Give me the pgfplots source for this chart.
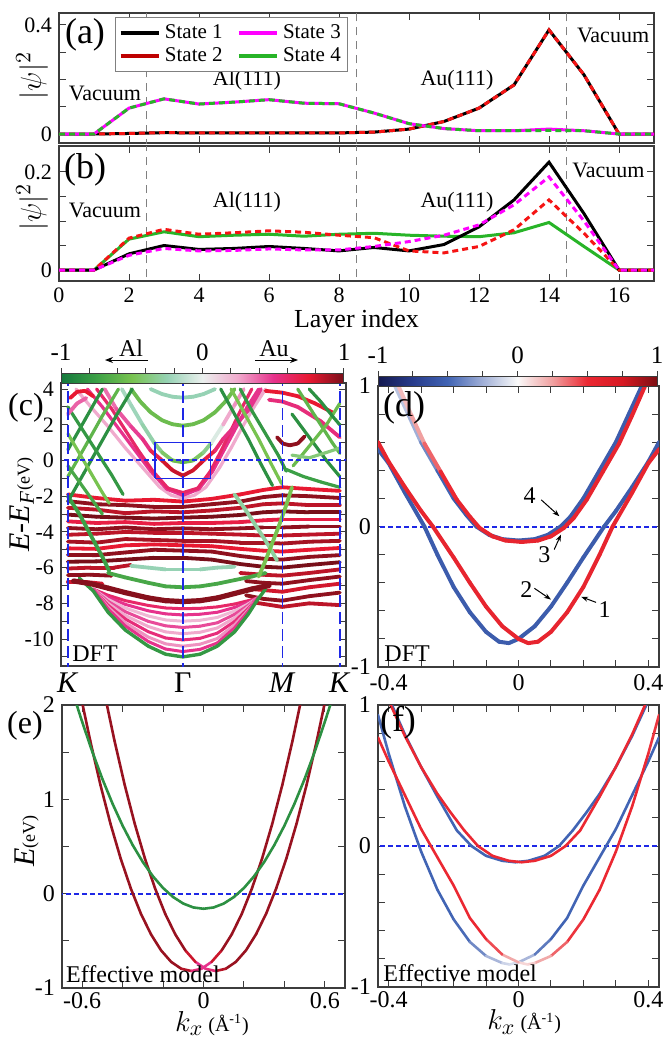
\documentclass[border=0pt]{standalone}
\usepackage{pgfplots}
\pgfplotsset{compat=1.18}
\usepackage{fontspec}
\setmainfont{Liberation Serif}
\usetikzlibrary{arrows.meta}

\definecolor{stgreen}{RGB}{40,180,40}
\definecolor{stred}{RGB}{245,20,20}
\definecolor{stdred}{RGB}{190,0,0}
\definecolor{stmag}{RGB}{255,0,255}
\definecolor{fgray}{RGB}{60,60,60}
\definecolor{guide}{RGB}{30,40,230}
\newcommand{\fs}[1]{\fontsize{#1}{#1}\selectfont}

\pgfplotsset{
  colormap={alau}{rgb255=(20,120,60) rgb255=(60,160,70) rgb255=(120,195,80) rgb255=(150,210,180) rgb255=(235,240,238) rgb255=(240,170,205) rgb255=(230,50,140) rgb255=(232,25,50) rgb255=(120,15,25)},
  colormap={spin}{rgb255=(20,25,80) rgb255=(40,60,140) rgb255=(65,100,180) rgb255=(160,175,215) rgb255=(250,250,250) rgb255=(240,160,160) rgb255=(235,40,50) rgb255=(215,25,35) rgb255=(125,15,20)},
  every axis/.append style={
    scale only axis,
    axis line style={fgray, line width=0.6pt},
    tick style={fgray, line width=0.5pt},
    major tick length=3.5pt, minor tick length=3.5pt,
    tick label style={font=\fs{11}},
    /pgf/number format/assume math mode=true,
  },
  band/.style={mesh, point meta=explicit, line width=1.9pt, line cap=round, forget plot},
  bandc/.style={mesh, point meta=#1, line width=1.9pt, line cap=round, forget plot},
  thinb/.style={mesh, point meta=explicit, line width=1.3pt, line cap=round, forget plot},
  vsep/.style={gray, line width=0.5pt, dash pattern=on 4pt off 3pt, forget plot},
}

\begin{document}
\begin{tikzpicture}
\useasboundingbox (0pt,0pt) rectangle (331.5pt,-519pt);

% ---------------- (a)
\begin{axis}[
  at={(29.5pt,-6.5pt)}, anchor=north west, width=297.5pt, height=65pt,
  xmin=0, xmax=17, ymin=-0.033, ymax=0.444,
  xtick={0,2,...,16}, xticklabels={},
  ytick={0,0.4}, minor ytick={0.1,0.2,0.3},
  ylabel={$|\psi|^2$}, ylabel style={font=\fs{15}, at={(axis description cs:-0.045,0.52)}, anchor=center},
  legend columns=2,
  legend style={at={(0.094,0.969)}, anchor=north west, draw=gray, line width=0.6pt,
    font=\fs{10.5}, inner sep=1.5pt, row sep=-1pt,
    /tikz/every even column/.append style={column sep=5pt}},
  legend image code/.code={\draw[#1, line width=2.2pt] (0pt,0pt) -- (19pt,0pt);},
]
\addplot[vsep] coordinates {(2.5,-0.1)(2.5,0.5)};
\addplot[vsep] coordinates {(8.5,-0.1)(8.5,0.5)};
\addplot[vsep] coordinates {(14.5,-0.1)(14.5,0.5)};
\addplot[black, line width=1.5pt, forget plot] coordinates {
  (0,0)(1,0)(2,0.002)(3,0.005)(4,0.004)(5,0.004)(6,0.004)(7,0.004)(8,0.004)
  (9,0.007)(10,0.018)(11,0.046)(12,0.095)(13,0.18)(14,0.382)(15,0.217)(16,0)(17,0)};
\addplot[stred, line width=1.5pt, dash pattern=on 3pt off 2pt, forget plot] coordinates {
  (0,0)(1,0)(2,0.002)(3,0.005)(4,0.004)(5,0.004)(6,0.004)(7,0.004)(8,0.004)
  (9,0.007)(10,0.018)(11,0.046)(12,0.095)(13,0.18)(14,0.382)(15,0.217)(16,0)(17,0)};
\addplot[stmag, line width=1.5pt, forget plot] coordinates {
  (0,0)(1,0)(2,0.095)(3,0.129)(4,0.11)(5,0.117)(6,0.126)(7,0.113)(8,0.111)
  (9,0.077)(10,0.038)(11,0.02)(12,0.012)(13,0.012)(14,0.018)(15,0.012)(16,0)(17,0)};
\addplot[stgreen, line width=1.5pt, dash pattern=on 3pt off 2pt, forget plot] coordinates {
  (0,0)(1,0)(2,0.095)(3,0.129)(4,0.11)(5,0.117)(6,0.126)(7,0.113)(8,0.111)
  (9,0.077)(10,0.038)(11,0.02)(12,0.012)(13,0.012)(14,0.013)(15,0.012)(16,0)(17,0)};
\addlegendimage{black}\addlegendentry{State 1}
\addlegendimage{stmag}\addlegendentry{State 3}
\addlegendimage{stdred}\addlegendentry{State 2}
\addlegendimage{stgreen}\addlegendentry{State 4}
\node[font=\fs{11}] at (axis cs:1.31,0.15) {Vacuum};
\node[font=\fs{11}] at (axis cs:5.37,0.198) {Al(111)};
\node[font=\fs{11}] at (axis cs:11.37,0.198) {Au(111)};
\node[font=\fs{11}] at (axis cs:15.83,0.36) {Vacuum};
\end{axis}

% ---------------- (b)
\begin{axis}[
  at={(29.5pt,-73pt)}, anchor=north west, width=297.5pt, height=67.5pt,
  xmin=0, xmax=17, ymin=-0.0224, ymax=0.253,
  xtick={0,2,...,16}, ytick={0,0.2}, minor ytick={0.05,0.1,0.15},
  xlabel={Layer index}, xlabel style={font=\fs{13}, at={(axis description cs:0.5,-0.296)}, anchor=center},
  ylabel={$|\psi|^2$}, ylabel style={font=\fs{15}, at={(axis description cs:-0.045,0.55)}, anchor=center},
]
\addplot[vsep] coordinates {(2.5,-0.1)(2.5,0.3)};
\addplot[vsep] coordinates {(8.5,-0.1)(8.5,0.3)};
\addplot[vsep] coordinates {(14.5,-0.1)(14.5,0.3)};
\addplot[stgreen, line width=1.5pt] coordinates {
  (0,0)(1,0)(2,0.063)(3,0.078)(4,0.068)(5,0.071)(6,0.073)(7,0.069)(8,0.073)
  (9,0.075)(10,0.071)(11,0.069)(12,0.068)(13,0.076)(14,0.097)(15,0.048)(16,0)(17,0)};
\addplot[black, line width=1.5pt] coordinates {
  (0,0)(1,0)(2,0.033)(3,0.05)(4,0.042)(5,0.044)(6,0.048)(7,0.044)(8,0.039)
  (9,0.046)(10,0.039)(11,0.052)(12,0.088)(13,0.143)(14,0.22)(15,0.115)(16,0)(17,0)};
\addplot[stred, line width=1.5pt, dash pattern=on 3pt off 2pt] coordinates {
  (0,0)(1,0)(2,0.065)(3,0.083)(4,0.073)(5,0.076)(6,0.08)(7,0.077)(8,0.071)
  (9,0.066)(10,0.039)(11,0.035)(12,0.048)(13,0.082)(14,0.143)(15,0.075)(16,0)(17,0)};
\addplot[stmag, line width=1.5pt, dash pattern=on 3pt off 2pt] coordinates {
  (0,0)(1,0)(2,0.03)(3,0.044)(4,0.039)(5,0.04)(6,0.043)(7,0.041)(8,0.041)
  (9,0.048)(10,0.058)(11,0.071)(12,0.092)(13,0.133)(14,0.19)(15,0.1)(16,0)(17,0)};
\node[font=\fs{11}] at (axis cs:1.31,0.122) {Vacuum};
\node[font=\fs{11}] at (axis cs:5.37,0.139) {Al(111)};
\node[font=\fs{11}] at (axis cs:11.37,0.139) {Au(111)};
\node[font=\fs{11}] at (axis cs:15.7,0.204) {Vacuum};
\end{axis}

% ---------------- (c)
\begin{axis}[
  at={(30.5pt,-191.5pt)}, anchor=north west, width=142.5pt, height=141.5pt,
  xmin=-0.06, xmax=2.42, ymin=-11.51, ymax=4.34,
  xtick={0,1,1.866,2.366}, xticklabels={\textit{K},Γ,\textit{M},\textit{K}},
  xticklabel style={font=\fs{15}}, xtick style={draw=none},
  ytick={-10,-8,...,4}, minor ytick={-11,-9,...,3},
  ylabel={\textit{E}-\textit{E}\textsubscript{\textit{F}}{\fs{9}(eV)}},
  ylabel style={font=\fs{15}, at={(axis description cs:-0.137,0.57)}, anchor=center},
  colormap name=alau, point meta min=-1, point meta max=1,
  colorbar horizontal,
  colorbar style={at={(0,1)}, anchor=south west, yshift=2.5pt, xshift=-0.5pt,
    width=141.5pt, height=5pt,
    xtick={-1,0,1}, minor xtick={-0.8,-0.6,-0.4,-0.2,0.2,0.4,0.6,0.8},
    xtick pos=right, xticklabel pos=right, tick align=outside,
    major tick length=2.5pt, minor tick length=2.5pt,
    xticklabel style={font=\fs{12.5}}, axis line style={fgray, line width=0.5pt}},
]
% d-band manifold
\addplot[bandc=0.75] coordinates {(0,-1.9)(0.25,-2.1)(0.5,-2.25)(0.75,-2.2)(1,-2.3)(1.25,-2.15)(1.5,-1.9)(1.7,-1.65)(1.866,-1.5)(2.1,-1.6)(2.366,-1.7)};
\addplot[bandc=0.95] coordinates {(0,-2.28)(0.25,-2.45)(0.5,-2.5)(0.75,-2.6)(1,-2.6)(1.25,-2.45)(1.5,-2.3)(1.7,-2.05)(1.866,-1.95)(2.1,-2.0)(2.366,-2.1)};
\addplot[bandc=0.85] coordinates {(0,-2.65)(0.25,-2.75)(0.5,-2.95)(0.75,-2.85)(1,-2.9)(1.25,-2.8)(1.5,-2.65)(1.7,-2.45)(1.866,-2.4)(2.1,-2.5)(2.366,-2.5)};
\addplot[bandc=1.0] coordinates {(0,-3.03)(0.25,-3.15)(0.5,-3.2)(0.75,-3.25)(1,-3.2)(1.25,-3.15)(1.5,-3.05)(1.7,-2.9)(1.866,-2.85)(2.1,-2.9)(2.366,-2.9)};
\addplot[bandc=0.7] coordinates {(0,-3.41)(0.25,-3.5)(0.5,-3.45)(0.75,-3.55)(1,-3.5)(1.25,-3.5)(1.5,-3.45)(1.7,-3.35)(1.866,-3.3)(2.1,-3.3)(2.366,-3.3)};
\addplot[bandc=0.95] coordinates {(0,-3.78)(0.25,-3.85)(0.5,-3.75)(0.75,-3.85)(1,-3.8)(1.25,-3.85)(1.5,-3.8)(1.7,-3.75)(1.866,-3.75)(2.1,-3.7)(2.366,-3.7)};
\addplot[bandc=0.85] coordinates {(0,-4.16)(0.25,-4.1)(0.5,-4.0)(0.75,-4.05)(1,-4.05)(1.25,-4.1)(1.5,-4.15)(1.7,-4.2)(1.866,-4.2)(2.1,-4.15)(2.366,-4.1)};
\addplot[bandc=0.9] coordinates {(0,-4.54)(0.25,-4.6)(0.5,-4.4)(0.75,-4.45)(1,-4.5)(1.25,-4.5)(1.5,-4.6)(1.7,-4.6)(1.866,-4.65)(2.1,-4.55)(2.366,-4.5)};
\addplot[bandc=0.75] coordinates {(0,-4.92)(0.25,-4.95)(0.5,-4.75)(0.75,-4.7)(1,-4.75)(1.25,-4.8)(1.5,-4.95)(1.7,-5.05)(1.866,-5.1)(2.1,-5.0)(2.366,-4.9)};
\addplot[bandc=0.95] coordinates {(0,-5.29)(0.25,-5.3)(0.5,-5.15)(0.75,-5.0)(1,-5.05)(1.25,-5.1)(1.5,-5.35)(1.7,-5.5)(1.866,-5.55)(2.1,-5.4)(2.366,-5.3)};
\addplot[bandc=1.0] coordinates {(0,-5.67)(0.25,-5.65)(0.5,-5.55)(0.75,-5.45)(1,-5.45)(1.25,-5.55)(1.5,-5.8)(1.7,-5.95)(1.866,-6.0)(2.1,-5.85)(2.366,-5.7)};
\addplot[bandc=0.85] coordinates {(0,-6.05)(0.2,-6.0)(0.4,-6.0)(0.55,-5.85)};
\addplot[bandc=0.85] coordinates {(1.5,-6.3)(1.7,-6.4)(1.866,-6.45)(2.1,-6.3)(2.366,-6.1)};
\addplot[bandc=0.95] coordinates {(0,-6.42)(0.2,-6.4)(0.38,-6.45)};
\addplot[bandc=0.95] coordinates {(1.55,-6.75)(1.7,-6.85)(1.866,-6.9)(2.1,-6.7)(2.366,-6.5)};
\addplot[bandc=0.8] coordinates {(0,-6.8)(0.15,-6.8)(0.3,-6.9)};
\addplot[bandc=0.8] coordinates {(1.6,-7.2)(1.866,-7.35)(2.1,-7.1)(2.366,-6.9)};
\addplot[bandc=0.95] coordinates {(1.55,-7.55)(1.7,-7.75)(1.866,-7.85)(2.1,-7.6)(2.366,-7.4)};
\addplot[bandc=0.85] coordinates {(1.62,-7.95)(1.866,-8.2)(2.1,-8.0)(2.366,-8.1)};
% lower quantum-well family
\addplot[bandc=0.6, line width=1.5pt] coordinates {(0.22,-7.2)(0.35,-7.55)(0.5,-7.85)(0.7,-8.12)(0.85,-8.26)(1.0,-8.3)(1.15,-8.28)(1.3,-8.2)(1.45,-8.04)(1.57,-7.85)(1.65,-7.7)};
\addplot[bandc=0.5, line width=1.5pt] coordinates {(0.22,-7.2)(0.35,-7.66)(0.5,-8.06)(0.7,-8.42)(0.85,-8.59)(1.0,-8.65)(1.15,-8.61)(1.3,-8.5)(1.45,-8.23)(1.57,-7.94)(1.65,-7.7)};
\addplot[bandc=0.2, line width=1.5pt] coordinates {(0.22,-7.2)(0.35,-7.78)(0.5,-8.26)(0.7,-8.71)(0.85,-8.93)(1.0,-9.0)(1.15,-8.95)(1.3,-8.79)(1.45,-8.43)(1.57,-8.03)(1.65,-7.7)};
\addplot[bandc=0.45, line width=1.5pt] coordinates {(0.22,-7.2)(0.35,-7.89)(0.5,-8.47)(0.7,-9.01)(0.85,-9.26)(1.0,-9.35)(1.15,-9.28)(1.3,-9.09)(1.45,-8.62)(1.57,-8.11)(1.65,-7.7)};
\addplot[bandc=0.25, line width=1.5pt] coordinates {(0.22,-7.2)(0.35,-8.0)(0.5,-8.68)(0.7,-9.3)(0.85,-9.6)(1.0,-9.7)(1.15,-9.62)(1.3,-9.38)(1.45,-8.82)(1.57,-8.2)(1.65,-7.7)};
\addplot[bandc=0.55, line width=1.5pt] coordinates {(0.22,-7.2)(0.35,-8.11)(0.5,-8.88)(0.7,-9.59)(0.85,-9.94)(1.0,-10.05)(1.15,-9.96)(1.3,-9.67)(1.45,-9.02)(1.57,-8.29)(1.65,-7.7)};
\addplot[bandc=0.3, line width=1.5pt] coordinates {(0.22,-7.2)(0.35,-8.22)(0.5,-9.09)(0.7,-9.89)(0.85,-10.27)(1.0,-10.4)(1.15,-10.29)(1.3,-9.97)(1.45,-9.21)(1.57,-8.38)(1.65,-7.7)};
\addplot[bandc=0.5, line width=1.5pt] coordinates {(0.22,-7.2)(0.35,-8.32)(0.5,-9.27)(0.7,-10.14)(0.85,-10.56)(1.0,-10.7)(1.15,-10.58)(1.3,-10.22)(1.45,-9.38)(1.57,-8.45)(1.65,-7.7)};
\addplot[bandc=-0.8, line width=1.7pt] coordinates {(0.1,-6.6)(0.22,-7.3)(0.35,-8.5)(0.5,-9.5)(0.7,-10.4)(0.85,-10.85)(1.0,-11.0)(1.15,-10.85)(1.3,-10.4)(1.45,-9.6)(1.57,-8.6)(1.65,-7.8)(1.72,-7.2)};
\addplot[bandc=-0.25] coordinates {(0.55,-5.9)(0.7,-6.0)(0.85,-6.1)(1.0,-6.1)(1.15,-6.1)(1.3,-6.0)(1.45,-5.95)};
\addplot[bandc=-0.7] coordinates {(0.35,-6.3)(0.5,-6.55)(0.7,-6.85)(0.85,-7.05)(1.0,-7.1)(1.15,-7.05)(1.3,-6.9)(1.45,-6.7)(1.6,-6.5)(1.72,-6.3)};
\addplot[bandc=0.97, line width=2.6pt] coordinates {(0.05,-6.75)(0.2,-6.9)(0.35,-7.15)(0.5,-7.4)(0.7,-7.7)(0.85,-7.85)(1.0,-7.9)(1.15,-7.85)(1.3,-7.7)(1.45,-7.45)(1.6,-7.2)(1.75,-7.0)};
% Al-like bands
\addplot[bandc=-0.75] coordinates {(0.0,-2.0)(0.1,-3.0)(0.2,-4.2)(0.3,-5.4)(0.36,-6.2)};
\addplot[bandc=-0.3] coordinates {(1.45,-1.9)(1.55,-2.8)(1.65,-3.8)(1.75,-4.8)(1.82,-5.6)};
\addplot[bandc=-0.5] coordinates {(1.95,-1.5)(1.9,-2.5)(1.84,-3.6)(1.78,-4.6)(1.72,-5.6)(1.66,-6.5)};
% upper bands around Gamma
\addplot[bandc=0.25, line width=1.6pt] coordinates {(0.07,4.0)(0.2,3.0)(0.35,1.9)(0.5,0.7)(0.65,-0.4)(0.8,-1.5)(0.9,-1.95)(1.0,-2.1)(1.1,-1.95)(1.2,-1.5)(1.32,-0.4)(1.42,0.7)(1.52,1.9)(1.62,3.0)(1.72,4.0)};
\addplot[bandc=0.5, line width=1.6pt] coordinates {(0.17,4.0)(0.3,3.0)(0.44,1.8)(0.58,0.6)(0.72,-0.6)(0.86,-1.6)(1.0,-1.95)(1.14,-1.6)(1.26,-0.6)(1.36,0.6)(1.46,1.8)(1.56,3.0)(1.66,4.0)};
\addplot[bandc=0.6, line width=1.6pt] coordinates {(0.25,4.0)(0.38,2.9)(0.5,1.7)(0.62,0.5)(0.74,-0.6)(0.87,-1.55)(1.0,-1.8)(1.13,-1.55)(1.24,-0.6)(1.33,0.5)(1.42,1.7)(1.51,2.9)(1.6,4.0)};
\addplot[band] coordinates {(0.32,4.0)[0.35](0.42,2.9)[0.4](0.55,1.9)[0.45](0.65,1.2)[0.5](0.72,0.55)[0.55](0.82,0.0)[0.8](0.91,-0.55)[0.8](1.0,-0.85)[0.85](1.09,-0.55)[0.8](1.18,0.0)[0.8](1.28,0.55)[0.6](1.35,1.2)[0.55](1.45,1.9)[0.5](1.58,2.9)[0.5](1.68,4.0)[0.5]};
\addplot[band] coordinates {(0.47,4.0)[-0.2](0.55,3.1)[-0.2](0.65,2.0)[-0.25](0.75,1.0)[-0.3](0.82,0.45)[-0.4](0.91,0.0)[-0.5](1.0,-0.1)[-0.6](1.09,0.0)[-0.5](1.18,0.45)[-0.4](1.25,1.0)[-0.3](1.35,2.0)[0.2](1.45,3.1)[0.3](1.53,4.0)[0.3]};
\addplot[bandc=-0.55] coordinates {(0.55,4.0)(0.63,3.3)(0.72,2.7)(0.82,2.25)(0.91,2.03)(1.0,1.95)(1.09,2.03)(1.18,2.25)(1.28,2.7)(1.37,3.3)(1.45,4.0)};
\addplot[bandc=-0.25] coordinates {(0.72,4.0)(0.82,3.72)(0.91,3.57)(1.0,3.52)(1.09,3.57)(1.18,3.72)(1.28,4.0)};
% left (K) side
\addplot[bandc=-0.85, line width=1.6pt] coordinates {(0.56,4.0)(0.42,2.5)(0.28,0.9)(0.14,-0.7)(0.0,-2.3)};
\addplot[bandc=-0.6, line width=1.6pt] coordinates {(0.44,4.0)(0.3,2.5)(0.16,0.9)(0.0,-0.9)};
\addplot[bandc=-0.85, line width=1.6pt] coordinates {(0.3,4.0)(0.15,2.3)(0.0,0.6)};
\addplot[bandc=-0.5, line width=1.6pt] coordinates {(0.0,1.5)(0.1,0.4)(0.2,-0.7)(0.3,-1.8)(0.36,-2.4)};
\addplot[bandc=-0.8, line width=1.6pt] coordinates {(0.0,3.0)(0.12,1.8)(0.25,0.5)(0.38,-0.8)(0.48,-1.9)};
\addplot[bandc=-0.7, line width=1.6pt] coordinates {(0.0,-0.3)(0.1,-1.2)(0.2,-2.1)(0.3,-3.0)};
\addplot[bandc=0.75] coordinates {(0.02,3.5)(0.08,3.85)(0.15,3.9)(0.22,3.6)};
\addplot[bandc=0.4] coordinates {(0.0,2.6)(0.08,3.2)(0.16,3.5)};
% right (M, K) side
\addplot[bandc=-0.85, line width=1.6pt] coordinates {(1.33,4.0)(1.45,2.6)(1.57,1.2)(1.68,-0.2)(1.78,-1.4)};
\addplot[bandc=-0.5, line width=1.6pt] coordinates {(1.42,4.0)(1.54,2.6)(1.66,1.2)(1.77,-0.2)(1.86,-1.3)};
\addplot[bandc=-0.8, line width=1.6pt] coordinates {(1.5,4.0)(1.6,2.8)(1.72,1.5)(1.83,0.3)(1.9,-0.6)};
\addplot[bandc=0.75] coordinates {(1.72,3.9)(1.866,3.8)(2.0,3.6)(2.15,3.2)(2.3,2.7)};
\addplot[bandc=0.55] coordinates {(1.75,3.4)(1.866,3.3)(2.0,3.0)(2.2,2.2)(2.366,1.3)};
\addplot[bandc=0.95] coordinates {(1.82,1.3)(1.87,0.95)(1.93,0.85)(2.0,0.95)(2.06,1.35)};
\addplot[bandc=-0.85, line width=1.6pt] coordinates {(1.95,2.6)(2.1,1.3)(2.25,0.0)(2.366,-0.9)};
\addplot[bandc=-0.6, line width=1.6pt] coordinates {(2.0,4.0)(2.15,2.5)(2.3,1.0)(2.366,0.4)};
\addplot[bandc=-0.75, line width=1.6pt] coordinates {(1.9,-0.5)(2.05,-0.9)(2.2,-1.2)(2.366,-1.5)};
\addplot[bandc=-0.55, line width=1.6pt] coordinates {(2.366,3.2)(2.25,2.0)(2.1,0.8)(1.96,-0.3)};
\addplot[bandc=-0.4, line width=1.6pt] coordinates {(1.95,0.3)(2.1,0.15)(2.25,0.45)(2.366,0.7)};
\addplot[bandc=-0.85, line width=1.6pt] coordinates {(2.1,4.0)(2.2,3.3)(2.3,2.5)(2.366,2.0)};
% guides
\addplot[guide, line width=0.8pt, dash pattern=on 6pt off 2.5pt, forget plot] coordinates {(0,-12)(0,5)};
\addplot[guide, line width=0.8pt, dash pattern=on 6pt off 2.5pt, forget plot] coordinates {(1,-12)(1,5)};
\addplot[guide, line width=0.8pt, dash pattern=on 6pt off 2.5pt, forget plot] coordinates {(1.866,-12)(1.866,5)};
\addplot[guide, line width=0.8pt, dash pattern=on 6pt off 2.5pt, forget plot] coordinates {(2.366,-12)(2.366,5)};
\addplot[guide, line width=1pt, dash pattern=on 2.5pt off 1.5pt, forget plot] coordinates {(-0.1,0)(2.5,0)};
\addplot[guide, line width=0.8pt, forget plot] coordinates {(0.76,-1)(1.24,-1)(1.24,1)(0.76,1)(0.76,-1)};
\node[font=\fs{12}, anchor=south west, fill=white, inner sep=0.5pt] at (rel axis cs:0.035,0.012) {DFT};
\end{axis}

% ---------------- (d)
\begin{axis}[
  at={(189pt,-193pt)}, anchor=north west, width=140.5pt, height=140.5pt,
  xmin=-0.433, xmax=0.433, ymin=-1, ymax=1,
  xtick={-0.4,0,0.4}, minor xtick={-0.3,-0.2,-0.1,0.1,0.2,0.3},
  ytick={-1,0,1}, minor ytick={-0.8,-0.6,-0.4,-0.2,0.2,0.4,0.6,0.8},
  xticklabel style={font=\fs{12}}, yticklabel style={font=\fs{12}},
  colormap name=spin, point meta min=-1, point meta max=1,
  colorbar horizontal,
  colorbar style={at={(0,1)}, anchor=south west, yshift=3pt, xshift=1pt,
    width=139.5pt, height=5pt,
    xtick={-1,0,1}, minor xtick={-0.75,-0.5,-0.25,0.25,0.5,0.75},
    xtick pos=right, xticklabel pos=right, tick align=outside,
    major tick length=2.5pt, minor tick length=2.5pt,
    xticklabel style={font=\fs{12.5}}, axis line style={fgray, line width=0.5pt}},
]
\addplot[guide, line width=1pt, dash pattern=on 2.5pt off 1.5pt, forget plot] coordinates {(-0.5,0)(0.5,0)};
\addplot[band, line width=2pt] coordinates {(-0.433,0.55)[-0.55](-0.40,0.45)[-0.55](-0.35,0.24)[-0.55](-0.29,0.0)[-0.55](-0.25,-0.2)[-0.55](-0.20,-0.43)[-0.55](-0.15,-0.61)[-0.55](-0.10,-0.75)[-0.55](-0.06,-0.82)[-0.55](-0.03,-0.83)[-0.55](0.0,-0.80)[-0.55](0.05,-0.71)[-0.55](0.10,-0.57)[-0.55](0.15,-0.4)[-0.55](0.2,-0.22)[-0.55](0.264,0.0)[-0.55](0.30,0.11)[-0.55](0.35,0.28)[-0.55](0.40,0.46)[-0.55](0.433,0.6)[-0.55]};
\addplot[band, line width=2pt] coordinates {(-0.433,0.6)[0.55](-0.40,0.46)[0.55](-0.35,0.28)[0.55](-0.30,0.11)[0.55](-0.264,0.0)[0.55](-0.2,-0.22)[0.55](-0.15,-0.4)[0.55](-0.10,-0.57)[0.55](-0.05,-0.71)[0.55](0.0,-0.80)[0.55](0.03,-0.83)[0.55](0.06,-0.82)[0.55](0.10,-0.75)[0.55](0.15,-0.61)[0.55](0.20,-0.43)[0.55](0.25,-0.2)[0.55](0.29,0.0)[0.55](0.35,0.24)[0.55](0.40,0.45)[0.55](0.433,0.55)[0.55]};
\addplot[band, line width=2pt] coordinates {(-0.38,1.0)[-0.15](-0.34,0.8)[-0.2](-0.30,0.6)[-0.3](-0.25,0.4)[-0.45](-0.20,0.2)[-0.55](-0.16,0.08)[-0.55](-0.13,0.0)[-0.55](-0.09,-0.06)[-0.55](-0.05,-0.09)[-0.55](0.0,-0.1)[-0.55](0.05,-0.09)[-0.55](0.09,-0.06)[-0.55](0.13,0.0)[-0.55](0.16,0.07)[-0.55](0.20,0.2)[-0.55](0.25,0.4)[-0.55](0.30,0.6)[-0.55](0.34,0.8)[-0.55](0.38,1.0)[-0.55]};
\addplot[band, line width=2pt] coordinates {(-0.37,1.0)[0.15](-0.33,0.79)[0.2](-0.29,0.59)[0.3](-0.24,0.39)[0.45](-0.19,0.19)[0.55](-0.15,0.07)[0.55](-0.12,-0.01)[0.55](-0.08,-0.07)[0.55](-0.04,-0.1)[0.55](0.01,-0.11)[0.55](0.06,-0.1)[0.55](0.10,-0.07)[0.55](0.14,-0.01)[0.55](0.17,0.06)[0.55](0.21,0.19)[0.55](0.26,0.39)[0.55](0.31,0.59)[0.55](0.35,0.79)[0.55](0.39,1.0)[0.55]};
\node[font=\fs{12}] at (axis cs:0.034,0.22) {4};
\node[font=\fs{12}] at (axis cs:0.08,-0.2) {3};
\node[font=\fs{12}] at (axis cs:0.024,-0.45) {2};
\node[font=\fs{12}] at (axis cs:0.265,-0.59) {1};
\draw[-{Stealth[length=3.5pt,width=2.5pt]}, line width=0.5pt] (axis cs:0.07,0.19) -- (axis cs:0.126,0.073);
\draw[-{Stealth[length=3.5pt,width=2.5pt]}, line width=0.5pt] (axis cs:0.11,-0.164) -- (axis cs:0.131,-0.057);
\draw[-{Stealth[length=3.5pt,width=2.5pt]}, line width=0.5pt] (axis cs:0.049,-0.44) -- (axis cs:0.1,-0.52);
\draw[-{Stealth[length=3.5pt,width=2.5pt]}, line width=0.5pt] (axis cs:0.239,-0.54) -- (axis cs:0.193,-0.5);
\node[font=\fs{12}, anchor=south west, inner sep=0.5pt] at (rel axis cs:0.018,0.015) {DFT};
\end{axis}

% ---------------- (e)
\begin{axis}[
  at={(31pt,-352.5pt)}, anchor=north west, width=141.5pt, height=141.5pt,
  xmin=-0.7, xmax=0.7, ymin=-1, ymax=2,
  xtick={-0.6,0,0.6}, minor xtick={-0.4,-0.2,0.2,0.4},
  ytick={-1,0,1,2}, minor ytick={-0.5,0.5,1.5},
  xticklabel style={font=\fs{12}, yshift=1.5pt}, yticklabel style={font=\fs{12}},
  colormap name=alau, point meta min=-1, point meta max=1,
  xlabel={$k_x$\,{\fs{10}(Å\textsuperscript{-1})}},
  xlabel style={font=\fs{15}, at={(axis description cs:0.53,-0.152)}, anchor=base},
  ylabel={\textit{E}{\fs{9}(eV)}},
  ylabel style={font=\fs{15}, at={(axis description cs:-0.124,0.52)}, anchor=center},
]
\addplot[guide, line width=1pt, dash pattern=on 2.5pt off 1.5pt, forget plot] coordinates {(-0.8,0)(0.8,0)};
\addplot[thinb] coordinates {(-0.60,2.023)[0.93](-0.56,1.618)[0.93](-0.51,1.154)[0.93](-0.46,0.74)[0.93](-0.41,0.374)[0.93](-0.36,0.058)[0.93](-0.31,-0.211)[0.93](-0.26,-0.43)[0.93](-0.21,-0.601)[0.93](-0.16,-0.723)[0.93](-0.11,-0.796)[0.93](-0.06,-0.82)[0.8](-0.01,-0.796)[0.3](0.04,-0.723)[0.7](0.09,-0.601)[0.93](0.14,-0.43)[0.93](0.19,-0.211)[0.93](0.24,0.058)[0.93](0.29,0.374)[0.93](0.34,0.74)[0.93](0.39,1.154)[0.93](0.44,1.618)[0.93](0.48,2.023)[0.93]};
\addplot[thinb] coordinates {(0.60,2.023)[0.93](0.56,1.618)[0.93](0.51,1.154)[0.93](0.46,0.74)[0.93](0.41,0.374)[0.93](0.36,0.058)[0.93](0.31,-0.211)[0.93](0.26,-0.43)[0.93](0.21,-0.601)[0.93](0.16,-0.723)[0.93](0.11,-0.796)[0.93](0.06,-0.82)[0.8](0.01,-0.796)[0.3](-0.04,-0.723)[0.7](-0.09,-0.601)[0.93](-0.14,-0.43)[0.93](-0.19,-0.211)[0.93](-0.24,0.058)[0.93](-0.29,0.374)[0.93](-0.34,0.74)[0.93](-0.39,1.154)[0.93](-0.44,1.618)[0.93](-0.48,2.023)[0.93]};
\addplot[thinb, point meta=-0.85] coordinates {(-0.63,2.02)(-0.6,1.82)(-0.55,1.504)(-0.5,1.215)(-0.45,0.954)(-0.4,0.72)(-0.35,0.514)(-0.3,0.335)(-0.25,0.184)(-0.2,0.06)(-0.15,-0.036)(-0.1,-0.105)(-0.05,-0.146)(0,-0.16)(0.05,-0.146)(0.1,-0.105)(0.15,-0.036)(0.2,0.06)(0.25,0.184)(0.3,0.335)(0.35,0.514)(0.4,0.72)(0.45,0.954)(0.5,1.215)(0.55,1.504)(0.6,1.82)(0.63,2.02)};
\node[font=\fs{12}, anchor=south west, inner sep=0.5pt] at (rel axis cs:0.01,0.015) {Effective model};
\end{axis}

% ---------------- (f)
\begin{axis}[
  at={(189pt,-352.5pt)}, anchor=north west, width=140.5pt, height=141pt,
  xmin=-0.433, xmax=0.433, ymin=-1, ymax=1,
  xtick={-0.4,0,0.4}, minor xtick={-0.3,-0.2,-0.1,0.1,0.2,0.3},
  ytick={-1,0,1}, minor ytick={-0.8,-0.6,-0.4,-0.2,0.2,0.4,0.6,0.8},
  xticklabel style={font=\fs{12}, yshift=1.5pt}, yticklabel style={font=\fs{12}},
  colormap name=spin, point meta min=-1, point meta max=1,
  xlabel={$k_x$\,{\fs{10}(Å\textsuperscript{-1})}},
  xlabel style={font=\fs{15}, at={(axis description cs:0.52,-0.152)}, anchor=base},
]
\addplot[guide, line width=1pt, dash pattern=on 2.5pt off 1.5pt, forget plot] coordinates {(-0.5,0)(0.5,0)};
\addplot[thinb] coordinates {(-0.433,0.93)[-0.45](-0.40,0.655)[-0.5](-0.35,0.28)[-0.5](-0.30,-0.04)[-0.5](-0.25,-0.31)[-0.5](-0.20,-0.52)[-0.5](-0.15,-0.68)[-0.45](-0.10,-0.78)[-0.3](-0.05,-0.83)[-0.15](-0.028,-0.84)[-0.1](0.0,-0.825)[-0.1](0.05,-0.77)[-0.35](0.10,-0.66)[-0.5](0.15,-0.51)[-0.5](0.20,-0.28)[-0.5](0.25,-0.08)[-0.5](0.30,0.12)[-0.5](0.35,0.36)[-0.5](0.40,0.6)[-0.5](0.433,0.77)[-0.5]};
\addplot[thinb] coordinates {(0.433,0.93)[0.45](0.40,0.655)[0.5](0.35,0.28)[0.5](0.30,-0.04)[0.5](0.25,-0.31)[0.5](0.20,-0.52)[0.5](0.15,-0.68)[0.45](0.10,-0.78)[0.3](0.05,-0.83)[0.15](0.028,-0.84)[0.1](0.0,-0.825)[0.1](-0.05,-0.77)[0.35](-0.10,-0.66)[0.5](-0.15,-0.51)[0.5](-0.20,-0.28)[0.5](-0.25,-0.08)[0.5](-0.30,0.12)[0.5](-0.35,0.36)[0.5](-0.40,0.6)[0.5](-0.433,0.77)[0.5]};
\addplot[thinb, point meta=-0.5] coordinates {(-0.39,1.0)(-0.35,0.79)(-0.30,0.56)(-0.25,0.35)(-0.19,0.11)(-0.145,0.0)(-0.1,-0.07)(-0.05,-0.105)(-0.01,-0.115)(0.03,-0.105)(0.08,-0.07)(0.125,0.0)(0.167,0.11)(0.21,0.24)(0.25,0.37)(0.30,0.56)(0.35,0.78)(0.394,1.0)};
\addplot[thinb, point meta=0.5] coordinates {(0.39,1.0)(0.35,0.79)(0.30,0.56)(0.25,0.35)(0.19,0.11)(0.145,0.0)(0.1,-0.07)(0.05,-0.105)(0.01,-0.115)(-0.03,-0.105)(-0.08,-0.07)(-0.125,0.0)(-0.167,0.11)(-0.21,0.24)(-0.25,0.37)(-0.30,0.56)(-0.35,0.78)(-0.394,1.0)};
\node[font=\fs{12}, anchor=south west, inner sep=0.5pt] at (rel axis cs:0.014,0.015) {Effective model};
\end{axis}

% panel letters and colour-bar annotations
\node[font=\fs{18}] at (42.5pt,-17.5pt) {(a)};
\node[font=\fs{18}] at (42.5pt,-85pt) {(b)};
\node[font=\fs{16}] at (13pt,-204pt) {(c)};
\node[font=\fs{18}] at (202pt,-204pt) {(d)};
\node[font=\fs{16}] at (12.5pt,-363pt) {(e)};
\node[font=\fs{18}] at (199pt,-361.5pt) {(f)};
\node[font=\fs{12}, anchor=base] at (65.5pt,-178pt) {Al};
\draw[-{Stealth[length=4pt,width=3pt]}, line width=0.5pt] (74pt,-180pt) -- (52.5pt,-180pt);
\node[font=\fs{12}, anchor=base] at (137pt,-178pt) {Au};
\draw[-{Stealth[length=4pt,width=3pt]}, line width=0.5pt] (127.5pt,-180pt) -- (149pt,-180pt);
\end{tikzpicture}
\end{document}
